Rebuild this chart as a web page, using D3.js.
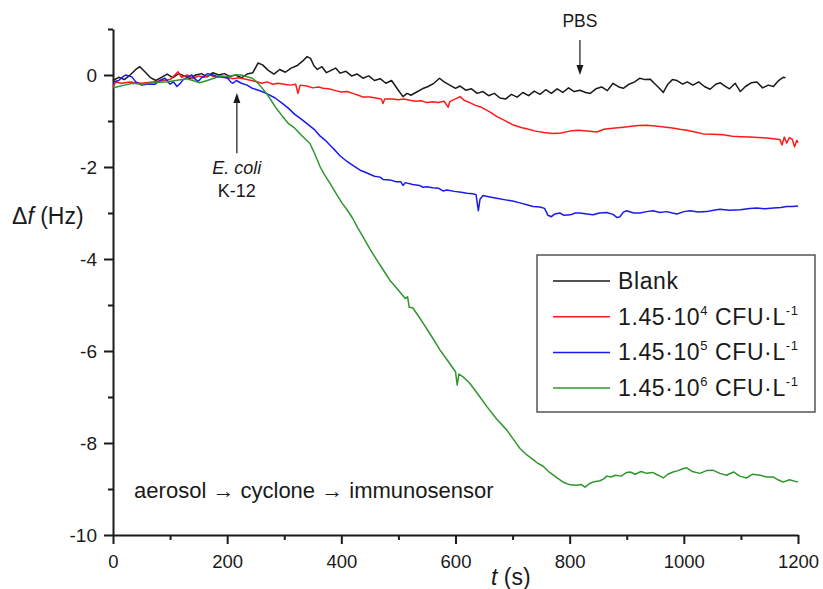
<!DOCTYPE html>
<html>
<head>
<meta charset="utf-8">
<script src="https://cdn.jsdelivr.net/npm/d3@7"></script>
<style>
	body { margin: 0; background: #fff; }
	svg text { font-family: "Liberation Sans", Arial, sans-serif; fill: #1a1a1a; }
</style>
</head>
<body>
<div id="chart"></div>
<script>

///////////////////////////////////////////////////////////////////////
// values: [ t (s), delta f (Hz) ]

const blank = [
	[0,-0.12],[10,-0.05],[20,-0.10],[30,0.00],[40,0.12],[47,0.18],[55,0.08],[65,-0.05],[75,-0.12],
	[85,-0.05],[95,0.02],[105,-0.06],[115,0.03],[125,-0.02],[135,-0.08],[145,0.00],[155,0.03],
	[165,-0.04],[175,0.05],[185,0.00],[195,0.03],[205,-0.03],[215,0.00],[225,-0.06],[235,0.02],
	[245,0.05],[254,0.26],[262,0.22],[272,0.10],[282,0.02],[292,0.12],[302,0.06],[312,0.15],
	[322,0.20],[332,0.30],[340,0.40],[346,0.36],[352,0.20],[358,0.12],[366,0.18],[374,0.05],
	[382,0.10],[390,0.15],[398,0.04],[408,0.08],[418,-0.02],[428,0.02],[438,-0.07],[448,-0.02],
	[458,-0.12],[468,-0.08],[478,-0.18],[488,-0.12],[498,-0.30],[508,-0.47],[515,-0.40],[522,-0.44],
	[532,-0.37],[542,-0.30],[552,-0.25],[562,-0.18],[572,-0.07],[580,-0.15],[590,-0.22],[600,-0.29],
	[608,-0.24],[618,-0.33],[628,-0.30],[638,-0.40],[648,-0.36],[658,-0.45],[668,-0.40],[678,-0.50],
	[688,-0.52],[698,-0.42],[708,-0.48],[718,-0.38],[728,-0.45],[738,-0.35],[748,-0.42],[758,-0.32],
	[768,-0.40],[778,-0.30],[788,-0.38],[798,-0.28],[808,-0.36],[818,-0.33],[828,-0.38],[836,-0.40],
	[846,-0.30],[856,-0.26],[866,-0.34],[876,-0.18],[886,-0.26],[894,-0.29],[904,-0.20],[914,-0.15],
	[923,-0.07],[932,-0.10],[941,-0.09],[950,-0.20],[958,-0.30],[964,-0.38],[972,-0.20],[980,-0.10],
	[988,-0.12],[998,-0.20],[1006,-0.15],[1016,-0.22],[1026,-0.15],[1036,-0.25],[1046,-0.31],
	[1056,-0.20],[1064,-0.17],[1072,-0.24],[1080,-0.30],[1090,-0.18],[1099,-0.36],[1108,-0.25],
	[1118,-0.17],[1128,-0.15],[1138,-0.28],[1148,-0.22],[1157,-0.25],[1166,-0.12],[1174,-0.05],[1178,-0.06]
];

const cfu_1e4 = [
	[0,-0.25],[5,-0.15],[15,-0.18],[30,-0.15],[50,-0.18],[70,-0.15],[90,-0.12],[100,-0.10],[110,0.02],
	[114,0.07],[120,-0.05],[130,0.00],[140,-0.08],[150,-0.02],[160,-0.05],[170,0.00],[180,-0.05],
	[190,-0.02],[200,-0.05],[210,-0.08],[220,-0.06],[235,-0.10],[250,-0.14],[261,-0.18],[270,-0.15],
	[280,-0.20],[289,-0.18],[300,-0.20],[310,-0.22],[320,-0.20],[324,-0.40],[328,-0.22],[340,-0.24],
	[350,-0.28],[360,-0.26],[368,-0.29],[378,-0.30],[390,-0.34],[400,-0.37],[410,-0.36],[420,-0.40],
	[430,-0.44],[438,-0.48],[450,-0.48],[460,-0.50],[470,-0.52],[473,-0.62],[476,-0.52],[490,-0.52],
	[500,-0.54],[510,-0.52],[520,-0.55],[530,-0.57],[540,-0.56],[550,-0.60],[560,-0.58],[570,-0.60],
	[580,-0.57],[587,-0.70],[590,-0.58],[600,-0.52],[608,-0.47],[615,-0.55],[625,-0.60],[635,-0.66],
	[645,-0.70],[660,-0.80],[672,-0.90],[685,-0.98],[700,-1.08],[715,-1.14],[728,-1.18],[740,-1.22],
	[755,-1.25],[770,-1.27],[785,-1.26],[800,-1.22],[815,-1.20],[830,-1.22],[848,-1.24],[860,-1.18],
	[875,-1.16],[890,-1.14],[905,-1.12],[920,-1.10],[935,-1.09],[950,-1.11],[965,-1.13],[980,-1.15],
	[993,-1.18],[1005,-1.20],[1020,-1.24],[1034,-1.28],[1050,-1.29],[1069,-1.30],[1085,-1.33],
	[1100,-1.34],[1115,-1.35],[1130,-1.36],[1146,-1.37],[1160,-1.39],[1168,-1.40],[1172,-1.52],
	[1176,-1.35],[1180,-1.48],[1185,-1.36],[1190,-1.40],[1194,-1.56],[1198,-1.42],[1200,-1.47]
];

const cfu_1e5 = [
	[0,-0.15],[10,-0.12],[16,-0.05],[22,0.00],[28,-0.02],[33,-0.04],[40,-0.15],[50,-0.22],[60,-0.20],
	[74,-0.20],[82,-0.12],[91,-0.07],[100,-0.20],[106,-0.15],[112,-0.25],[118,-0.18],[123,-0.10],
	[130,-0.05],[138,0.00],[143,-0.08],[149,-0.14],[156,-0.05],[166,0.03],[175,0.00],[184,-0.04],
	[193,-0.05],[201,-0.07],[206,-0.15],[210,-0.18],[216,-0.12],[225,-0.18],[235,-0.22],[244,-0.29],
	[252,-0.32],[261,-0.36],[272,-0.42],[284,-0.50],[295,-0.60],[307,-0.72],[318,-0.85],[331,-0.97],
	[342,-1.08],[354,-1.20],[363,-1.33],[372,-1.42],[382,-1.55],[390,-1.65],[398,-1.76],[410,-1.88],
	[422,-1.98],[433,-2.07],[445,-2.13],[458,-2.20],[468,-2.22],[473,-2.27],[485,-2.28],[496,-2.32],
	[504,-2.32],[508,-2.40],[512,-2.34],[525,-2.38],[537,-2.40],[543,-2.44],[550,-2.43],[560,-2.45],
	[570,-2.46],[578,-2.52],[585,-2.50],[598,-2.53],[610,-2.55],[620,-2.57],[630,-2.58],[636,-2.60],
	[640,-2.95],[643,-2.70],[648,-2.62],[660,-2.65],[672,-2.68],[690,-2.72],[700,-2.74],[713,-2.78],
	[725,-2.82],[736,-2.86],[748,-2.87],[756,-2.90],[762,-3.05],[768,-3.08],[774,-3.02],[783,-3.00],
	[790,-3.05],[801,-3.04],[810,-3.00],[818,-3.00],[830,-3.02],[841,-3.04],[852,-3.00],[865,-2.99],
	[876,-3.03],[883,-3.10],[888,-3.08],[894,-2.98],[900,-2.95],[912,-3.00],[923,-3.00],[935,-2.97],
	[946,-2.95],[958,-2.99],[970,-2.97],[980,-3.00],[988,-3.02],[1000,-2.97],[1011,-2.95],[1025,-2.98],
	[1040,-2.97],[1052,-2.94],[1063,-2.92],[1080,-2.94],[1099,-2.93],[1115,-2.90],[1128,-2.89],
	[1142,-2.91],[1157,-2.89],[1170,-2.88],[1180,-2.86],[1190,-2.86],[1200,-2.85]
];

const cfu_1e6 = [
	[0,-0.28],[10,-0.25],[20,-0.22],[35,-0.18],[50,-0.20],[65,-0.18],[80,-0.16],[94,-0.15],[110,-0.12],
	[129,-0.08],[140,-0.12],[152,-0.17],[165,-0.12],[182,-0.05],[195,-0.03],[205,-0.02],[215,0.00],
	[225,0.00],[235,-0.04],[244,-0.07],[252,-0.15],[261,-0.28],[270,-0.42],[278,-0.57],[287,-0.74],
	[297,-0.90],[307,-1.05],[318,-1.15],[331,-1.32],[345,-1.49],[353,-1.70],[363,-2.00],[372,-2.20],
	[380,-2.35],[392,-2.60],[401,-2.78],[410,-2.93],[420,-3.12],[429,-3.33],[438,-3.52],[450,-3.78],
	[462,-4.02],[474,-4.25],[485,-4.46],[500,-4.68],[512,-4.86],[516,-4.82],[519,-5.05],[525,-5.06],
	[535,-5.24],[543,-5.39],[558,-5.68],[573,-5.98],[588,-6.24],[600,-6.45],[603,-6.74],[606,-6.50],
	[615,-6.58],[625,-6.70],[640,-6.95],[655,-7.21],[672,-7.48],[690,-7.72],[705,-7.98],[713,-8.12],
	[725,-8.26],[736,-8.36],[743,-8.43],[753,-8.50],[765,-8.64],[778,-8.76],[790,-8.86],[801,-8.91],
	[812,-8.92],[820,-8.90],[827,-8.96],[835,-8.88],[841,-8.85],[853,-8.82],[860,-8.78],[865,-8.72],
	[872,-8.74],[880,-8.70],[890,-8.72],[900,-8.64],[906,-8.63],[915,-8.68],[925,-8.62],[935,-8.66],
	[945,-8.64],[955,-8.70],[964,-8.76],[972,-8.68],[981,-8.63],[990,-8.60],[998,-8.56],[1005,-8.54],
	[1015,-8.62],[1028,-8.66],[1040,-8.60],[1051,-8.59],[1063,-8.66],[1075,-8.70],[1087,-8.63],
	[1098,-8.72],[1110,-8.76],[1120,-8.68],[1134,-8.70],[1145,-8.74],[1157,-8.74],[1165,-8.80],
	[1174,-8.85],[1185,-8.80],[1200,-8.85]
];

const series = [ blank, cfu_1e4, cfu_1e5, cfu_1e6 ];
const series_colors = [ "#1a1a1a", "#ff1a1a", "#1a1aee", "#2f962f" ];
const legend_base = [ "Blank", "1.45·10", "1.45·10", "1.45·10" ];
const legend_exp = [ "", "4", "5", "6" ];

const x_major = [ 0, 200, 400, 600, 800, 1000, 1200 ];
const x_minor = [ 100, 300, 500, 700, 900, 1100 ];
const y_major = [ 0, -2, -4, -6, -8, -10 ];
const y_minor = [ 1, -1, -3, -5, -7, -9 ];

///////////////////////////////////////////////////////////////////////

const width = 823, height = 589;
const margin = { left: 113, right: 25, top: 29, bottom: 54 };

let svg = d3.select( "#chart" )
	.append( "svg" )
	.attr( "width", width )
	.attr( "height", height );

let X_scale = d3.scaleLinear()
	.domain( [ 0, 1200 ] )
	.range( [ margin.left, width - margin.right ] );

let Y_scale = d3.scaleLinear()
	.domain( [ -10, 1 ] )
	.range( [ height - margin.bottom, margin.top ] );

draw_axes();
draw_lines();
draw_annotations();
draw_legend();

///////////////////////////////////////////////////////////////////////

function style_axis( g, size )	{
	g.selectAll( ".domain" ).attr( "stroke", "#1a1a1a" ).attr( "stroke-width", 2 );
	g.selectAll( ".tick line" ).attr( "stroke", "#1a1a1a" ).attr( "stroke-width", 2 );
	g.selectAll( ".tick text" )
		.attr( "fill", "#1a1a1a" )
		.style( "font-size", size + "px" );
	g.attr( "font-family", null ).attr( "font-size", null );
}

function draw_axes()	{

	let y0 = Y_scale( -10 );

	// minor ticks first, then the main axes on top
	svg.append( "g" )
		.attr( "transform", "translate(0," + y0 + ")" )
		.call( d3.axisBottom( X_scale ).tickValues( x_minor ).tickSize( 5 ).tickFormat( "" ) )
		.call( g => g.select( ".domain" ).remove() )
		.call( g => style_axis( g, 18 ) );

	svg.append( "g" )
		.attr( "transform", "translate(" + margin.left + ",0)" )
		.call( d3.axisLeft( Y_scale ).tickValues( y_minor ).tickSize( 5 ).tickFormat( "" ) )
		.call( g => g.select( ".domain" ).remove() )
		.call( g => style_axis( g, 18 ) );

	svg.append( "g" )
		.attr( "transform", "translate(0," + y0 + ")" )
		.call( d3.axisBottom( X_scale ).tickValues( x_major ).tickSize( 9 ).tickSizeOuter( 0 )
			.tickPadding( 11 ).tickFormat( d => String( d ) ) )
		.call( g => style_axis( g, 18.5 ) );

	svg.append( "g" )
		.attr( "transform", "translate(" + margin.left + ",0)" )
		.call( d3.axisLeft( Y_scale ).tickValues( y_major ).tickSize( 9 ).tickSizeOuter( 0 )
			.tickPadding( 7 ).tickFormat( d => String( d ) ) )
		.call( g => style_axis( g, 19 ) );

	// axis titles
	let ylab = svg.append( "text" )
		.attr( "x", 12 )
		.attr( "y", 224 )
		.style( "font-size", "23px" );
	ylab.append( "tspan" ).text( "Δ" );
	ylab.append( "tspan" ).attr( "font-style", "italic" ).text( "f" );
	ylab.append( "tspan" ).text( " (Hz)" );

	let xlab = svg.append( "text" )
		.attr( "x", 491 )
		.attr( "y", 585 )
		.style( "font-size", "23px" );
	xlab.append( "tspan" ).attr( "font-style", "italic" ).text( "t" );
	xlab.append( "tspan" ).text( " (s)" );
}

function draw_lines()	{

	let line = d3.line()
		.curve( d3.curveLinear )
		.x( d => X_scale( d[ 0 ] ) )
		.y( d => Y_scale( d[ 1 ] ) );

	svg.append( "g" )
		.selectAll( "path" )
		.data( series )
		.join( "path" )
			.attr( "d", line )
			.attr( "fill", "none" )
			.attr( "stroke", ( d, i ) => series_colors[ i ] )
			.attr( "stroke-width", 1.5 )
			.attr( "stroke-linejoin", "round" );
}

function arrow( x, y_from, y_to )	{
	// shaft plus a small filled head pointing at y_to
	let dir = y_to > y_from ? 1 : -1;
	svg.append( "line" )
		.attr( "x1", x ).attr( "x2", x )
		.attr( "y1", y_from ).attr( "y2", y_to - dir * 6 )
		.attr( "stroke", "#1a1a1a" )
		.attr( "stroke-width", 1.2 );
	svg.append( "path" )
		.attr( "d", "M" + ( x - 3.5 ) + "," + ( y_to - dir * 10 ) + "L" + ( x + 3.5 ) + "," + ( y_to - dir * 10 )
			+ "L" + x + "," + y_to + "Z" )
		.attr( "fill", "#1a1a1a" );
}

function draw_annotations()	{

	// E. coli K-12 injection
	let xe = X_scale( 217 );
	arrow( xe, Y_scale( -1.7 ), Y_scale( -0.39 ) );
	svg.append( "text" )
		.attr( "x", xe ).attr( "y", Y_scale( -2.15 ) )
		.attr( "text-anchor", "middle" )
		.attr( "font-style", "italic" )
		.style( "font-size", "18px" )
		.text( "E. coli" );
	svg.append( "text" )
		.attr( "x", xe ).attr( "y", Y_scale( -2.66 ) )
		.attr( "text-anchor", "middle" )
		.style( "font-size", "18px" )
		.text( "K-12" );

	// PBS rinse
	let xp = X_scale( 818 );
	arrow( xp, Y_scale( 0.76 ), Y_scale( 0.0 ) );
	svg.append( "text" )
		.attr( "x", xp ).attr( "y", Y_scale( 1.04 ) )
		.attr( "text-anchor", "middle" )
		.style( "font-size", "17.5px" )
		.text( "PBS" );

	svg.append( "text" )
		.attr( "x", X_scale( 37 ) ).attr( "y", Y_scale( -9.2 ) )
		.style( "font-size", "22px" )
		.text( "aerosol → cyclone → immunosensor" );
}

function draw_legend()	{

	let lg = svg.append( "g" ).attr( "transform", "translate(537,255)" );

	lg.append( "rect" )
		.attr( "width", 278 ).attr( "height", 157 )
		.attr( "fill", "#fff" )
		.attr( "stroke", "#555" )
		.attr( "stroke-width", 1.5 );

	let rows = lg.selectAll( "g.row" )
		.data( series_colors )
		.join( "g" )
			.attr( "class", "row" )
			.attr( "transform", ( d, i ) => "translate(0," + ( 26 + i * 35.7 ) + ")" );

	rows.append( "line" )
		.attr( "x1", 16 ).attr( "x2", 73 )
		.attr( "stroke", d => d )
		.attr( "stroke-width", 1.5 );

	let txt = rows.append( "text" )
		.attr( "x", 81 )
		.attr( "y", 8 )
		.attr( "letter-spacing", 0.6 )
		.style( "font-size", "23px" );

	txt.each( function( d, i )	{
		let t = d3.select( this );
		t.append( "tspan" ).text( legend_base[ i ] );
		if( legend_exp[ i ] )	{
			t.append( "tspan" ).attr( "dy", -10 ).style( "font-size", "13px" ).text( legend_exp[ i ] );
			t.append( "tspan" ).attr( "dy", 10 ).text( " CFU·L" );
			t.append( "tspan" ).attr( "dy", -10 ).style( "font-size", "13px" ).text( "-1" );
		}
	} );
}

</script>
</body>
</html>
